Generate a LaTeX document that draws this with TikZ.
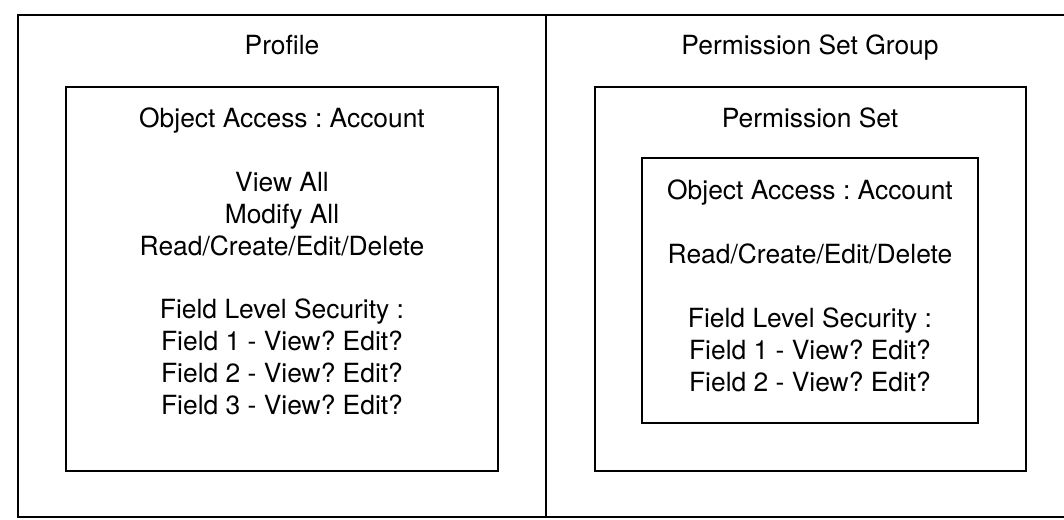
\documentclass[tikz,border=0pt]{standalone}
\usepackage{fontspec}
\setmainfont{TeX Gyre Heros}
\usepackage{tikz}
\usetikzlibrary{positioning}
\frenchspacing
\tikzset{box/.style = {draw, line width = 1.5pt}}
\tikzset{lbl/.style = {anchor = base, inner sep = 0, font = \fontsize{19.8}{24}\selectfont}}

\begin{document}
\begin{tikzpicture}[x = 0.75pt, y = -0.75pt]
    \useasboundingbox (0, 0) rectangle (1064, 519);
    \clip (0, 0) rectangle (1064, 519);

    % outer frame and divider
    \draw [box] (18, 15) rectangle (1090, 517);
    \draw [box] (546, 15) -- (546, 517);

    % profile side
    \draw [box] (66, 87) rectangle (498, 471);
    \node [lbl] (profile) at (282, 54) {Profile};
    \node [lbl] (proobj) at (282, 127) {Object Access : Account};
    \foreach \txt [count = \i] in {View All, Modify All, Read/Create/Edit/Delete}
        \node [lbl] (proacc\i) at (282, 159 + 32*\i) {\txt};
    \foreach \txt [count = \i] in {Field Level Security :, Field 1 - View? Edit?, Field 2 - View? Edit?, Field 3 - View? Edit?}
        \node [lbl] (profls\i) at (282, 286 + 32*\i) {\txt};

    % permission set group side
    \draw [box] (595, 87) rectangle (1026, 471);
    \draw [box] (642, 158) rectangle (978, 423);
    \node [lbl] (psgroup) at (810, 54) {Permission Set Group};
    \node [lbl] (pset) at (810, 127) {Permission Set};
    \node [lbl] (psobj) at (810, 199) {Object Access : Account};
    \node [lbl] (psacc) at (810, 263) {Read/Create/Edit/Delete};
    \foreach \txt [count = \i] in {Field Level Security :, Field 1 - View? Edit?, Field 2 - View? Edit?}
        \node [lbl] (psfls\i) at (810, 295 + 32*\i) {\txt};
\end{tikzpicture}
\end{document}
